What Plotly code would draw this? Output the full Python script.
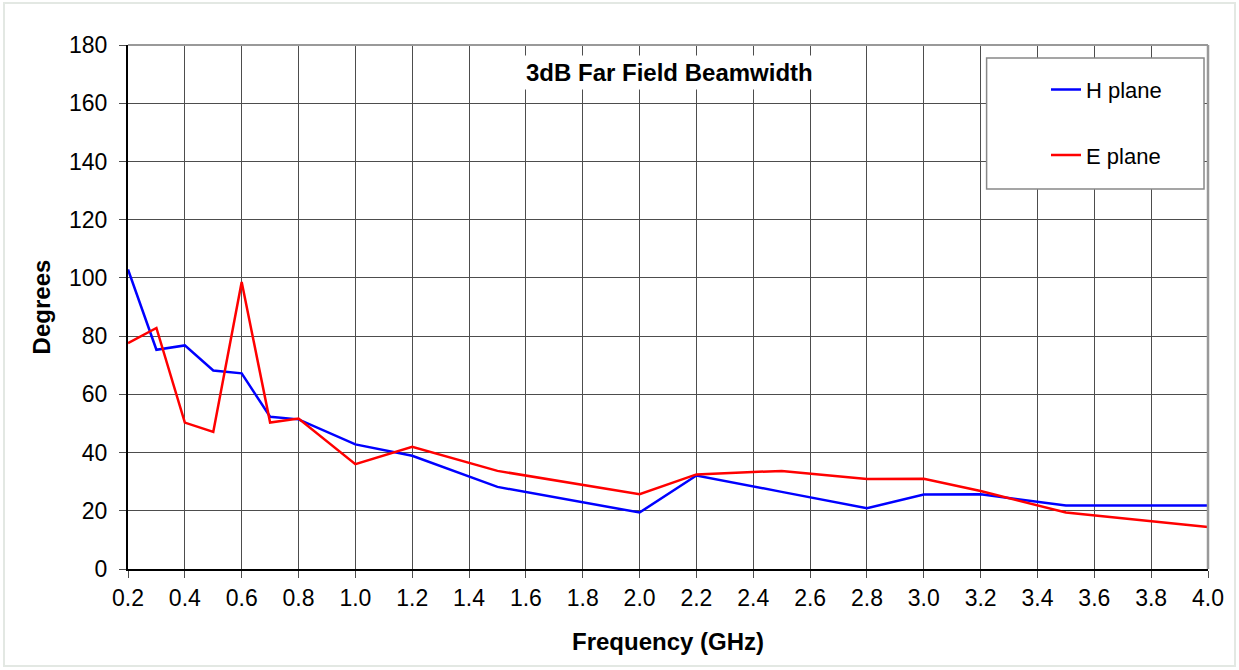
import plotly.graph_objects as go

freq = [0.2, 0.3, 0.4, 0.5, 0.6, 0.7, 0.8, 1.0, 1.2, 1.5, 2.0, 2.2, 2.5, 2.8, 3.0, 3.2, 3.5, 4.0]
h_plane = [102.9, 75.3, 76.8, 68.2, 67.2, 52.3, 51.4, 42.8, 38.9, 28.2, 19.4, 32.1, 26.5, 20.9, 25.6, 25.7, 21.8, 21.8]
e_plane = [77.6, 82.8, 50.3, 47.1, 98.6, 50.3, 51.7, 36.0, 42.0, 33.7, 25.7, 32.5, 33.7, 30.9, 31.0, 26.8, 19.4, 14.4]

FONT = "Liberation Sans, Arial, sans-serif"
GRID = "#4d4d4d"

fig = go.Figure()
fig.add_trace(go.Scatter(x=freq, y=h_plane, mode="lines", name="H plane",
                         line=dict(color="#0000ff", width=2.5), legendgroup="h"))
fig.add_trace(go.Scatter(x=freq, y=e_plane, mode="lines", name="E plane",
                         line=dict(color="#ff0000", width=2.5), legendgroup="e"))

fig.update_layout(
    width=1239, height=670,
    margin=dict(l=128, r=31, t=45, b=101),
    paper_bgcolor="white", plot_bgcolor="white",
    font=dict(family=FONT, size=22, color="black"),
    showlegend=True,
    legend=dict(x=0.850, y=0.955, xanchor="left", yanchor="top",
                bgcolor="rgba(0,0,0,0)", borderwidth=0,
                traceorder="grouped", tracegroupgap=34,
                font=dict(family=FONT, size=22, color="black")),
    xaxis=dict(range=[0.2, 4.0], tick0=0.2, dtick=0.2, tickformat=".1f",
               showgrid=True, gridcolor=GRID, gridwidth=1,
               showline=True, linecolor="black", linewidth=2,
               ticks="outside", ticklen=7, tickcolor=GRID, tickwidth=1,
               zeroline=False, tickfont=dict(size=23),
               title=dict(text="<b>Frequency (GHz)</b>", font=dict(size=24), standoff=24)),
    yaxis=dict(range=[0, 180], tick0=0, dtick=20,
               showgrid=True, gridcolor=GRID, gridwidth=1,
               showline=True, linecolor="black", linewidth=2,
               ticks="outside", ticklen=7, tickcolor=GRID, tickwidth=1,
               zeroline=False, tickfont=dict(size=23), ticklabelstandoff=7,
               title=dict(text="<b>Degrees</b>", font=dict(size=24), standoff=12)),
    shapes=[
        # top and right plot border
        dict(type="line", xref="paper", yref="paper", x0=0, x1=1, y0=1, y1=1,
             line=dict(color="#999999", width=2), layer="above"),
        dict(type="line", xref="paper", yref="paper", x0=1, x1=1, y0=0, y1=1,
             line=dict(color="#999999", width=2.5), layer="above"),
        # legend box
        dict(type="rect", xref="paper", yref="paper", x0=0.795, x1=0.9963, y0=0.725, y1=0.975,
             fillcolor="white", line=dict(color="#888888", width=1.5), layer="above"),
        # outer chart border
        dict(type="rect", xref="paper", yref="paper", x0=-0.1148, x1=1.025, y0=-0.185, y1=1.080,
             fillcolor="rgba(0,0,0,0)", line=dict(color="#e3e8e3", width=2), layer="below"),
    ],
    annotations=[
        dict(text="<b>3dB Far Field Beamwidth</b>", xref="paper", yref="paper",
             x=0.501, y=0.948, xanchor="center", yanchor="middle", showarrow=False,
             font=dict(family=FONT, size=24, color="black"),
             bgcolor="white", borderpad=3),
    ],
)

fig.write_html("out.html",
               config={"displayModeBar": False},
               post_script="document.body.style.margin='0';document.body.style.overflow='hidden';")
